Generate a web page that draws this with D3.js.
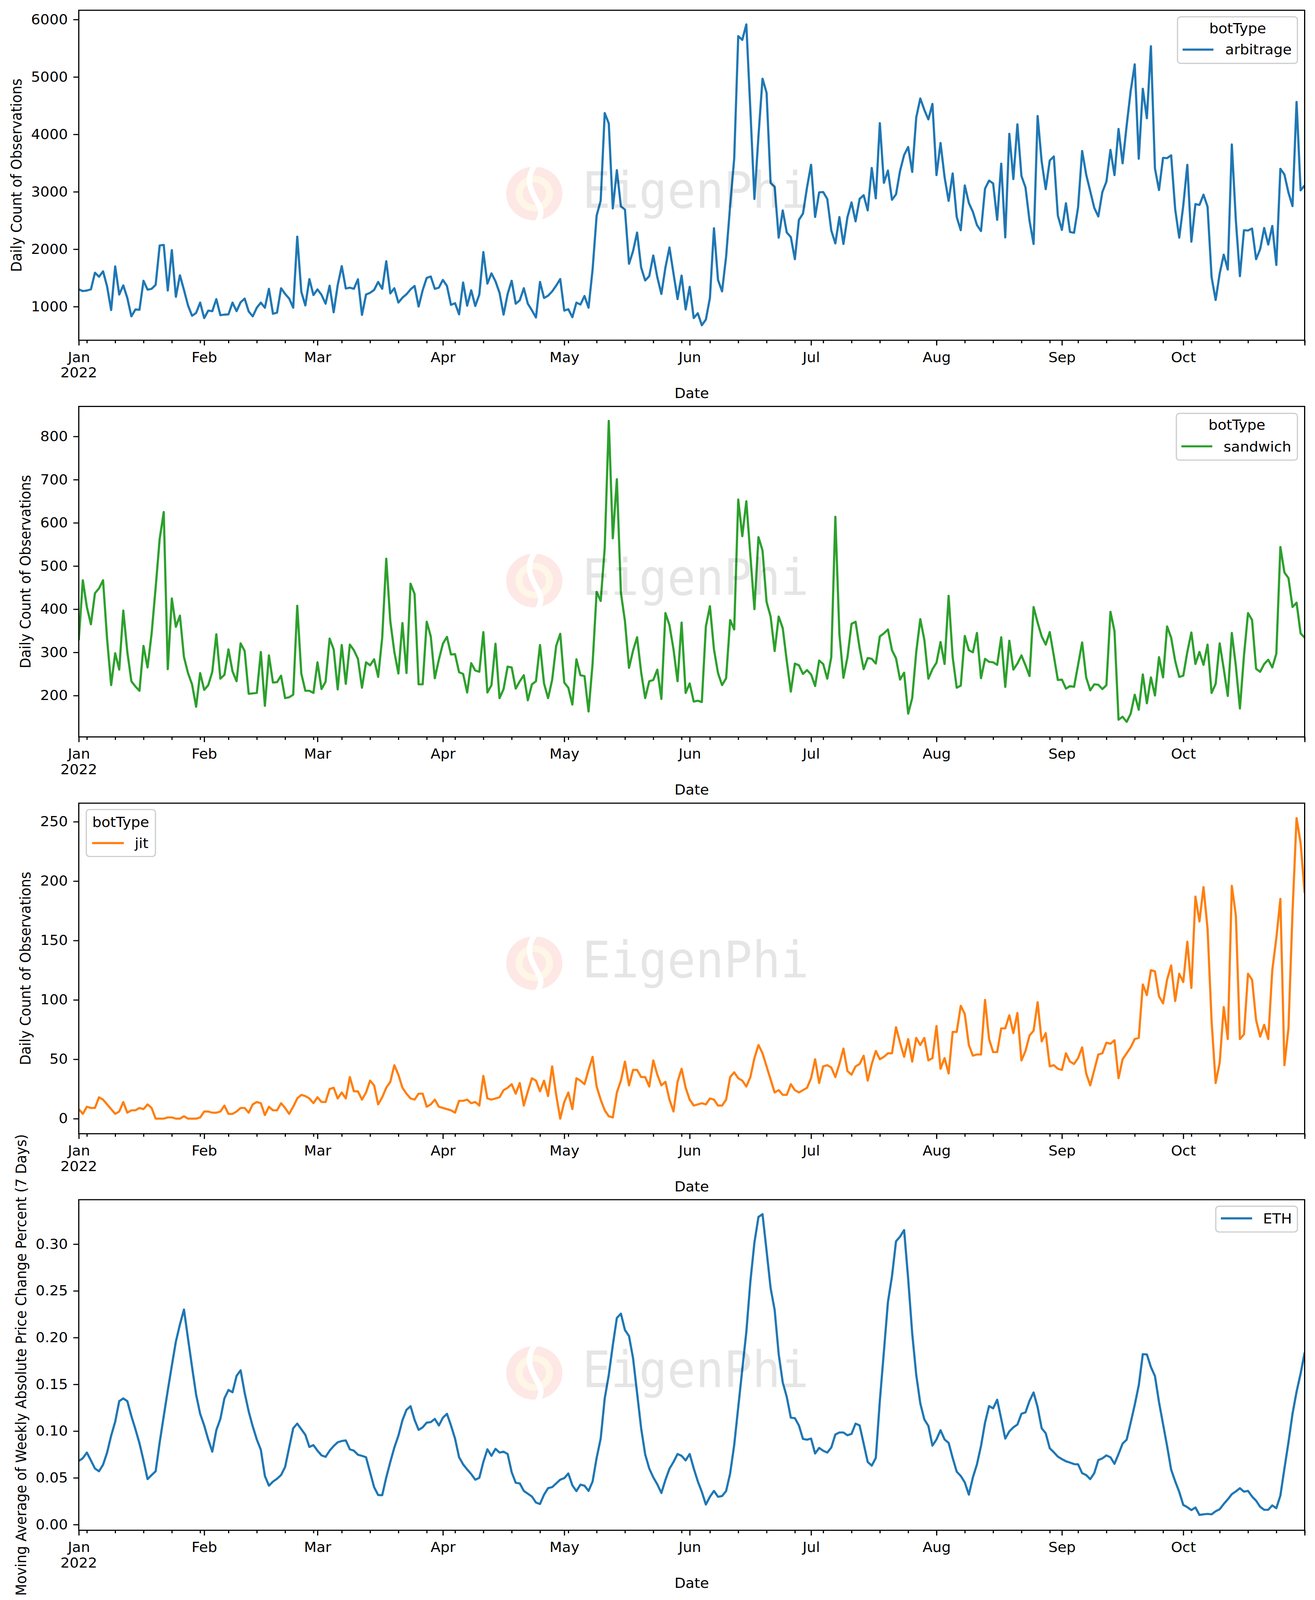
<!DOCTYPE html>
<html>
<head>
<meta charset="utf-8">
<script src="https://cdn.jsdelivr.net/npm/d3@7"></script>
<style>
html, body { margin: 0; padding: 0; background: #fff; overflow: hidden; }
svg { display: block; width: 100vw; height: 100vh; }
text { font-family: "DejaVu Sans"; fill: #000; }
</style>
</head>
<body>
<svg id="chart" viewBox="0 0 3367 4291" preserveAspectRatio="none"></svg>
<script>
// daily values, Jan 1 to Oct 31 2022
var arbitrage = [
1300,1270,1280,1300,1590,1520,1615,1350,940,1700,
1210,1370,1150,830,950,945,1450,1295,1310,1380,
2065,2075,1280,1985,1170,1545,1290,1020,840,890,
1070,800,930,920,1130,850,860,865,1070,920,
1075,1140,915,830,980,1070,980,1310,875,895,
1320,1220,1140,980,2220,1260,1020,1480,1200,1300,
1205,1050,1365,900,1375,1705,1315,1330,1310,1475,
855,1210,1240,1290,1430,1310,1790,1230,1320,1070,
1155,1215,1300,1360,1000,1285,1500,1525,1310,1330,
1465,1360,1030,1060,865,1420,1015,1285,1010,1210,
1950,1400,1580,1440,1240,860,1220,1450,1050,1110,
1320,1050,935,810,1430,1150,1190,1265,1365,1480,
930,955,815,1070,1035,1185,980,1645,2585,2845,
4370,4190,2710,3375,2745,2690,1745,1965,2290,1680,
1455,1530,1890,1510,1220,1680,2030,1575,1130,1540,
950,1345,800,885,675,775,1150,2365,1465,1265,
1870,2760,3575,5710,5645,5915,4420,2875,3970,4970,
4725,3155,3085,2200,2675,2290,2210,1825,2510,2620,
3075,3470,2560,2990,2995,2875,2325,2100,2560,2090,
2560,2815,2485,2875,2940,2675,3415,2885,4195,3155,
3370,2860,2955,3365,3640,3780,3345,4295,4625,4425,
4260,4530,3290,3850,3255,2840,3320,2560,2330,3110,
2805,2650,2420,2315,3055,3195,3145,2510,3490,2205,
4010,3220,4175,3275,3075,2495,2090,4320,3525,3045,
3545,3615,2585,2335,2800,2300,2285,2730,3710,3300,
3010,2720,2570,2995,3175,3730,3290,4095,3495,4150,
4755,5220,3575,4795,4280,5535,3405,3030,3590,3585,
3635,2695,2200,2760,3470,2130,2785,2770,2950,2740,
1510,1115,1575,1905,1645,3825,2495,1530,2330,2325,
2360,1825,2000,2370,2080,2405,1725,3400,3300,2985,
2750,4565,3025,3110];

var sandwich = [
328,467,405,365,437,448,467,331,224,298,
260,397,301,233,221,211,315,265,343,450,
563,625,261,425,359,385,289,252,226,174,
252,213,224,255,342,239,248,307,256,233,
321,303,204,205,206,301,176,293,230,231,
246,194,196,202,408,251,211,211,206,277,
215,232,332,307,214,317,227,318,305,285,
218,277,270,284,243,334,517,372,301,251,
368,252,459,435,226,226,371,337,240,283,
320,336,295,296,254,250,207,275,258,255,
347,207,224,320,194,215,267,265,216,233,
247,189,226,233,317,228,194,236,315,343,
230,218,179,284,247,245,163,274,440,419,
542,836,564,701,438,372,264,304,335,254,
194,233,236,260,192,391,363,307,233,369,
206,228,186,188,185,360,407,307,252,224,
240,375,353,654,569,650,524,400,567,536,
417,383,303,383,356,280,209,274,270,250,
259,249,222,281,273,239,289,614,343,241,
289,366,371,310,261,287,285,274,337,344,
353,305,286,237,253,158,194,301,377,329,
239,261,276,324,273,431,289,218,223,338,
305,300,345,240,285,278,277,271,335,220,
327,260,274,293,270,245,405,369,337,318,
347,292,236,237,216,222,220,271,323,242,
212,226,225,215,224,394,349,144,151,139,
158,202,167,249,182,242,200,289,242,360,
334,280,243,246,301,346,273,301,271,318,
206,227,321,262,199,345,268,170,292,391,
375,262,255,273,283,265,297,544,485,472,
405,415,344,334];

var jit = [
8,4,10,9,9,18,16,12,8,4,
6,14,5,7,7,9,8,12,9,0,
0,0,1,1,0,0,2,0,0,0,
1,6,6,5,5,6,11,4,4,6,
9,9,5,12,14,13,3,10,7,7,
13,9,4,10,17,20,19,17,13,18,
14,14,25,26,17,22,17,35,23,23,
16,22,32,28,12,18,26,31,45,37,
26,21,17,16,21,21,10,12,16,10,
9,8,7,5,15,15,16,13,14,11,
36,17,16,17,18,24,26,29,21,30,
11,23,34,32,23,32,19,44,20,0,
14,22,8,34,32,29,41,52,27,16,
7,2,1,22,32,48,28,41,41,35,
35,27,49,37,28,31,16,6,31,42,
26,16,11,12,13,12,17,16,11,11,
16,35,39,34,32,27,35,51,62,55,
44,33,22,24,20,20,29,24,22,24,
26,34,50,30,44,45,43,35,46,59,
40,37,44,46,53,32,46,57,50,52,
55,55,77,64,52,67,48,68,62,68,
49,51,78,42,51,38,73,73,95,88,
62,53,54,54,100,67,56,56,76,76,
87,72,89,49,57,70,74,98,65,72,
44,45,42,41,55,48,46,51,60,38,
28,41,54,55,64,63,66,34,50,55,
60,67,68,113,104,125,124,103,97,117,
129,99,122,115,149,110,187,166,195,160,
82,30,47,94,67,196,171,67,71,122,
117,83,69,79,67,125,152,185,45,76,
174,253,232,190];

var eth = [
.068,.071,.077,.0686,.060,.057,.064,.077,.095,.110,
.132,.135,.132,.116,.102,.087,.0686,.0486,.053,.057,
.088,.116,.1435,.170,.1957,.214,.230,.199,.1685,.139,
.1185,.106,.091,.078,.101,.113,.135,.144,.1415,.159,
.165,.141,.121,.105,.091,.080,.052,.0416,.046,.049,
.053,.0616,.0824,.103,.108,.102,.096,.083,.085,.079,
.074,.0724,.079,.084,.088,.0894,.090,.0805,.079,.0747,
.0735,.072,.056,.040,.0316,.0314,.0505,.067,.0824,.095,
.1116,.1227,.1266,.112,.1013,.104,.109,.1096,.113,.106,
.1143,.1185,.106,.092,.072,.0644,.059,.054,.048,.050,
.067,.0805,.0735,.081,.077,.078,.0755,.056,.0447,.044,
.036,.033,.030,.0236,.022,.032,.039,.040,.044,.048,
.0497,.0547,.042,.0358,.0427,.0416,.036,.046,.0713,.092,
.135,.160,.192,.221,.2256,.208,.2017,.178,.1407,.103,
.075,.060,.0505,.043,.0338,.0477,.0597,.067,.0755,.0735,
.0686,.0755,.060,.0463,.035,.0214,.0297,.036,.0297,.0305,
.0358,.0547,.085,.1255,.166,.206,.260,.3017,.329,.332,
.293,.253,.2295,.1823,.152,.1365,.1143,.1138,.106,.0916,
.0908,.092,.076,.082,.079,.077,.0824,.0963,.0985,.0985,
.0955,.097,.108,.106,.0866,.067,.063,.0713,.1324,.185,
.238,.2656,.303,.308,.315,.263,.2045,.160,.1296,.1124,
.1055,.0844,.091,.101,.091,.0874,.0713,.0566,.052,.045,
.032,.0505,.0644,.084,.109,.1268,.1243,.1335,.113,.092,
.0996,.104,.107,.1185,.120,.1324,.1413,.1255,.103,.0977,
.0816,.0774,.0727,.070,.0677,.0663,.0647,.0644,.055,.053,
.0486,.055,.069,.0708,.074,.072,.065,.0755,.0866,.0908,
.109,.128,.149,.1823,.182,.1685,.1588,.131,.1074,.084,
.0588,.0463,.035,.021,.0186,.0155,.0183,.0103,.011,.0114,
.011,.0142,.0164,.022,.027,.0325,.0355,.0389,.0352,.036,
.030,.0255,.019,.0158,.0158,.0205,.0175,.031,.060,.088,
.1185,.142,.1615,.184];

var monthLabels = ["Jan","Feb","Mar","Apr","May","Jun","Jul","Aug","Sep","Oct"];
var countTicksArb = [1000,2000,3000,4000,5000,6000];
var countTicksSand = [200,300,400,500,600,700,800];
var countTicksJit = [0,50,100,150,200,250];
var ethTicks = [0,0.05,0.10,0.15,0.20,0.25,0.30];

var svg = d3.select("#chart");
var FS = 37;
var lw = 3;
var left = 201.7, right = 3340.5;

var start = new Date(Date.UTC(2022,0,1));
var end = new Date(Date.UTC(2022,9,31));
var x = d3.scaleUtc().domain([start,end]).range([left,right]);
var months = d3.utcMonth.range(start, end);
var mondays = d3.utcMonday.range(start, d3.utcDay.offset(end,1));

var panels = [
  {name:"arbitrage", values:arbitrage, color:"#1f77b4", top:27.5, bottom:912.5, dom:[414,6161], ticks:countTicksArb, fmt:d3.format("d"),
   ylabel:"Daily Count of Observations", ylabelX:55, logoY:519,
   legend:{x0:3015,x1:3322,y0:45,y1:170,title:"botType",titleX:3169,titleY:89.5,lineX:[3028,3107],lineY:133,text:"arbitrage",textX:3137,textY:146}},
  {name:"sandwich", values:sandwich, color:"#2ca02c", top:1090, bottom:1976.3, dom:[104.2,869.5], ticks:countTicksSand, fmt:d3.format("d"),
   ylabel:"Daily Count of Observations", ylabelX:78, logoY:1557,
   legend:{x0:3012,x1:3322,y0:1108.6,y1:1234,title:"botType",titleX:3167,titleY:1152.6,lineX:[3025,3104],lineY:1197,text:"sandwich",textX:3133,textY:1211}},
  {name:"jit", values:jit, color:"#ff7f0e", top:2154, bottom:3040.5, dom:[-12.7,265.6], ticks:countTicksJit, fmt:d3.format("d"),
   ylabel:"Daily Count of Observations", ylabelX:78, logoY:2583,
   legend:{x0:221,x1:398,y0:2171,y1:2297,title:"botType",titleX:309,titleY:2217.5,lineX:[236,317],lineY:2261,text:"jit",textX:345,textY:2274.6}},
  {name:"ETH", values:eth, color:"#1f77b4", top:3217.4, bottom:4104, dom:[-0.0061,0.3475], ticks:ethTicks, fmt:d3.format(".2f"),
   ylabel:"Moving Average of Weekly Absolute Price Change Percent (7 Days)", ylabelX:67, logoY:3682,
   legend:{x0:3113,x1:3322,y0:3235,y1:3304,title:null,lineX:[3126,3206],lineY:3267.5,text:"ETH",textX:3234,textY:3281}}
];

panels.forEach(function(p,i){
  var y = d3.scaleLinear().domain(p.dom).range([p.bottom,p.top]);
  var g = svg.append("g");

  g.append("clipPath").attr("id","clip"+i).append("rect")
    .attr("x",left).attr("y",p.top).attr("width",right-left).attr("height",p.bottom-p.top);

  // watermark logo sits under the line
  var cy = p.logoY, cx = 1368;
  var logo = g.append("g");
  logo.append("circle").attr("cx",cx).attr("cy",cy).attr("r",72).attr("fill","#fde8e6");
  logo.append("circle").attr("cx",cx).attr("cy",cy).attr("r",48).attr("fill","#fef6e6");
  logo.append("circle").attr("cx",cx).attr("cy",cy).attr("r",30).attr("fill","#fde8e6");
  logo.append("path").attr("fill","none").attr("stroke","#fff").attr("stroke-width",14)
    .attr("d","M"+(cx+2)+","+(cy-76)+"C"+(cx-24)+","+(cy-40)+" "+(cx-10)+","+(cy-10)+" "+(cx+6)+","+(cy+20)
      +"C"+(cx+22)+","+(cy+46)+" "+(cx+18)+","+(cy+60)+" "+(cx+8)+","+(cy+76));

  var line = d3.line()
    .x(function(d,j){ return x(d3.utcDay.offset(start,j)); })
    .y(function(d){ return y(d); });

  g.append("path").datum(p.values)
    .attr("clip-path","url(#clip"+i+")")
    .attr("d",line).attr("fill","none").attr("stroke",p.color)
    .attr("stroke-width",5.6).attr("stroke-linejoin","round");

  // watermark text goes over the line
  g.append("text").attr("x",1491).attr("y",cy+38)
    .attr("textLength",580).attr("lengthAdjust","spacingAndGlyphs")
    .style("font-family","DejaVu Sans Mono").style("font-size","134px")
    .style("fill","#000").style("fill-opacity",0.1).text("EigenPhi");

  // frame
  g.append("rect").attr("x",left).attr("y",p.top).attr("width",right-left).attr("height",p.bottom-p.top)
    .attr("fill","none").attr("stroke","#000").attr("stroke-width",lw);

  // x axis, months major, mondays minor
  var xMinor = g.append("g").attr("transform","translate(0,"+p.bottom+")")
    .call(d3.axisBottom(x).tickValues(mondays).tickSize(8).tickFormat(""));
  var xMajor = g.append("g").attr("transform","translate(0,"+p.bottom+")")
    .call(d3.axisBottom(x).tickValues(months.concat([end])).tickSize(14).tickPadding(18)
      .tickFormat(function(d,j){ return monthLabels[j] || ""; }));
  [xMinor,xMajor].forEach(function(a){
    a.select(".domain").remove();
    a.selectAll("line").attr("stroke","#000").attr("stroke-width",lw);
  });
  xMajor.selectAll("text").style("font-size",FS+"px").style("font-family","DejaVu Sans");
  g.append("text").attr("x",left).attr("y",p.bottom+100).attr("text-anchor","middle")
    .style("font-size",FS+"px").text("2022");
  g.append("text").attr("x",(left+right)/2).attr("y",p.bottom+155).attr("text-anchor","middle")
    .style("font-size",FS+"px").text("Date");

  // y axis
  var yAxis = g.append("g").attr("transform","translate("+left+",0)")
    .call(d3.axisLeft(y).tickValues(p.ticks).tickSize(14).tickPadding(14).tickFormat(p.fmt));
  yAxis.select(".domain").remove();
  yAxis.selectAll("line").attr("stroke","#000").attr("stroke-width",lw);
  yAxis.selectAll("text").style("font-size",FS+"px").style("font-family","DejaVu Sans");

  g.append("text")
    .attr("transform","translate("+p.ylabelX+","+((p.top+p.bottom)/2)+") rotate(-90)")
    .attr("text-anchor","middle").style("font-size",FS+"px").text(p.ylabel);

  // legend
  var l = p.legend;
  g.append("rect").attr("x",l.x0).attr("y",l.y0).attr("width",l.x1-l.x0).attr("height",l.y1-l.y0)
    .attr("rx",8).attr("fill","#fff").attr("fill-opacity",0.8).attr("stroke","#ccc").attr("stroke-width",lw);
  if (l.title) {
    g.append("text").attr("x",l.titleX).attr("y",l.titleY).attr("text-anchor","middle")
      .style("font-size",FS+"px").text(l.title);
  }
  g.append("line").attr("x1",l.lineX[0]).attr("x2",l.lineX[1]).attr("y1",l.lineY).attr("y2",l.lineY)
    .attr("stroke",p.color).attr("stroke-width",5.6);
  g.append("text").attr("x",l.textX).attr("y",l.textY).style("font-size",FS+"px").text(l.text);
});
</script>
</body>
</html>
